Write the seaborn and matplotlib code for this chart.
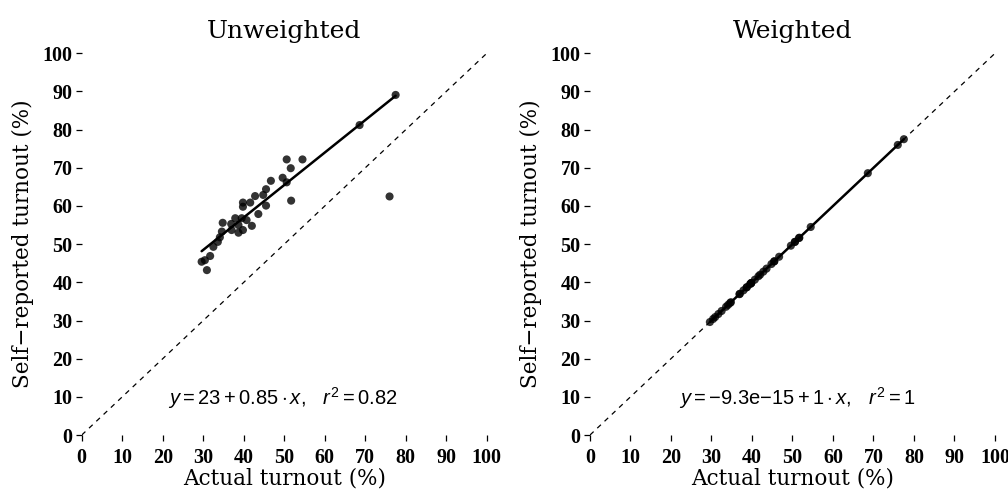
import numpy as np
import pandas as pd
import seaborn as sns
import matplotlib
matplotlib.use("Agg")
import matplotlib.pyplot as plt

# ---- data ----
actual = [50.6, 54.5, 51.6, 49.6, 50.6, 46.7, 45.5, 44.8, 42.8, 51.7,
          45.5, 39.8, 41.6, 39.8, 43.6, 34.8, 37.9, 39.5, 40.7, 36.9,
          38.7, 42.0, 37.0, 34.6, 39.8, 38.7, 34.1, 33.6, 32.5, 31.7,
          30.4, 29.6, 30.9, 77.5, 68.6, 76.0]
self_unweighted = [72.2, 72.2, 69.9, 67.4, 66.2, 66.6, 64.4, 62.9, 62.6, 61.4,
                   60.1, 60.9, 60.9, 59.8, 57.9, 55.6, 56.8, 56.8, 56.3, 55.3,
                   55.0, 54.8, 53.7, 53.3, 53.7, 53.0, 51.8, 50.6, 49.3, 46.9,
                   45.8, 45.4, 43.2, 89.1, 81.2, 62.5]
self_weighted = [50.6, 54.5, 51.6, 49.6, 50.6, 46.7, 45.5, 44.8, 42.8, 51.7,
                 45.5, 39.8, 41.6, 39.8, 43.6, 34.8, 37.9, 39.5, 40.7, 36.9,
                 38.7, 42.0, 37.0, 34.6, 39.8, 38.7, 34.1, 33.6, 32.5, 31.7,
                 30.4, 29.6, 30.9, 77.5, 68.6, 76.0]
panel_titles = ["Unweighted", "Weighted"]
fit_intercepts = [23.0, -9.3e-15]
fit_slopes = [0.85, 1.0]
equations = [r"$\mathit{y} = 23 + 0.85 \cdot \mathit{x},\;\;\; \mathit{r}^2 = 0.82$",
             r"$\mathit{y} = {-}9.3\mathrm{e}{-}15 + 1 \cdot \mathit{x},\;\;\; \mathit{r}^2 = 1$"]
tick_values = [0, 10, 20, 30, 40, 50, 60, 70, 80, 90, 100]

df = pd.DataFrame({"actual": actual,
                   "Unweighted": self_unweighted,
                   "Weighted": self_weighted})

sns.set_theme(style="ticks")
plt.rcParams["font.family"] = ["DejaVu Serif"]
plt.rcParams["text.color"] = "black"
plt.rcParams["axes.labelcolor"] = "black"
plt.rcParams["mathtext.fontset"] = "custom"
plt.rcParams["mathtext.rm"] = "Liberation Sans"
plt.rcParams["mathtext.it"] = "Liberation Sans:italic"
plt.rcParams["mathtext.bf"] = "Liberation Sans:bold"

fig = plt.figure(figsize=(10.08, 4.9), dpi=100)
lefts = [0.0811, 0.5853]
axes = [fig.add_axes([l, 0.1122, 0.4018, 0.779]) for l in lefts]

for i, ax in enumerate(axes):
    col = panel_titles[i]
    ax.axline((0, 0), slope=1, color="black", lw=0.9, ls=(0, (4, 4)), zorder=1)
    xr = np.array([df["actual"].min(), df["actual"].max()])
    yr = fit_intercepts[i] + fit_slopes[i] * xr
    sns.lineplot(x=xr, y=yr, ax=ax, color="black", lw=1.8, zorder=2)
    sns.scatterplot(data=df, x="actual", y=col, ax=ax, color="black",
                    alpha=0.8, s=34, edgecolor="none", zorder=3)
    ax.set_xlim(0, 100)
    ax.set_ylim(0, 100)
    ax.set_xticks(tick_values)
    ax.set_yticks(tick_values)
    for lab in ax.get_xticklabels() + ax.get_yticklabels():
        lab.set_fontfamily("Liberation Serif")
        lab.set_fontweight("bold")
        lab.set_fontsize(14.5)
    ax.tick_params(direction="out", length=4.2, width=0.9, color="black",
                   pad=2.5, labelcolor="black")
    ax.tick_params(axis="x", pad=5)
    ax.set_title(col, fontsize=18, pad=11, color="black")
    ax.set_xlabel("Actual turnout (%)", fontsize=15.5, labelpad=-0.5)
    ax.set_ylabel("Self\u2212reported turnout (%)", fontsize=15.5, labelpad=6)
    ax.text([49.6, 51.2][i], 7.9, equations[i], ha="center", va="baseline",
            fontsize=14.5, color="black")
    ax.grid(False)
    sns.despine(ax=ax, left=True, bottom=True)

fig.savefig("out.png", dpi=100)
